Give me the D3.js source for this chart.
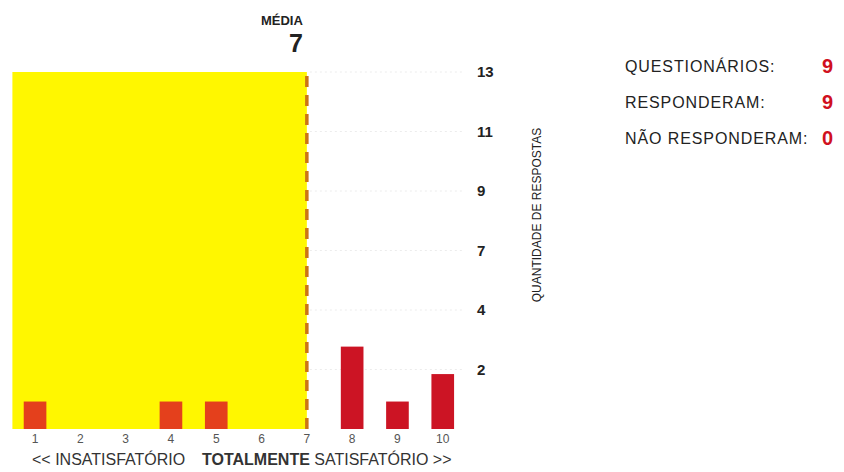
<!DOCTYPE html>
<html>
<head>
<meta charset="utf-8">
<script src="https://cdn.jsdelivr.net/npm/d3@7"></script>
<style>
  body { margin: 0; background: #fff; }
  svg text { font-family: Arial, "Liberation Sans", Helvetica, sans-serif; }
</style>
</head>
<body>
<div id="chart"></div>
<script>
// notas 1..10 e quantidade de respostas
var categories = [1, 2, 3, 4, 5, 6, 7, 8, 9, 10];
var counts = [1, 0, 0, 1, 1, 0, 0, 3, 1, 2];
var yMax = 13;
var media = 7;
var summaryLabels = ["QUESTIONÁRIOS:", "RESPONDERAM:", "NÃO RESPONDERAM:"];
var summaryValues = [9, 9, 0];

var width = 844, height = 472;

var svg = d3.select("#chart")
  .append("svg")
    .attr("width", width)
    .attr("height", height);

// scales
var x = d3.scaleBand()
  .domain(categories)
  .range([12.4, 465.4])
  .paddingInner(0.5)
  .paddingOuter(0.25);

var y = d3.scaleLinear()
  .domain([0, yMax])
  .range([429, 72]);

var yTicks = d3.range(1, 7).map(function (k) { return yMax * k / 6; });
var xMid = function (d) { return x(d) + x.bandwidth() / 2; };

// yellow area up to the mean
svg.append("rect")
  .attr("x", x.range()[0])
  .attr("y", y(yMax))
  .attr("width", xMid(media) - x.range()[0])
  .attr("height", y(0) - y(yMax))
  .style("fill", "#fff700");

// faint grid lines
svg.append("g")
  .selectAll("line")
  .data(yTicks)
  .enter()
  .append("line")
    .attr("x1", xMid(media) + 3)
    .attr("x2", 462)
    .attr("y1", function (d) { return y(d); })
    .attr("y2", function (d) { return y(d); })
    .style("stroke", "#ececec")
    .style("stroke-dasharray", "2,3");

// bars
svg.append("g")
  .selectAll("rect")
  .data(categories)
  .enter()
  .append("rect")
    .attr("x", function (d) { return x(d); })
    .attr("width", x.bandwidth())
    .attr("y", function (d, i) { return y(counts[i]); })
    .attr("height", function (d, i) { return y(0) - y(counts[i]); })
    .style("fill", function (d) { return d <= media ? "#e4401c" : "#cc1424"; });

// mean line
svg.append("line")
  .attr("x1", xMid(media))
  .attr("x2", xMid(media))
  .attr("y1", y(yMax) + 4)
  .attr("y2", y(0))
  .style("stroke", "#cc7414")
  .style("stroke-width", 3.5)
  .style("stroke-dasharray", "11,8");

svg.append("text")
  .attr("x", xMid(media) - 4)
  .attr("y", 25)
  .attr("text-anchor", "end")
  .style("font-size", "13px")
  .style("font-weight", "bold")
  .style("fill", "#222")
  .text("MÉDIA");

svg.append("text")
  .attr("x", xMid(media) - 4)
  .attr("y", 52)
  .attr("text-anchor", "end")
  .style("font-size", "25px")
  .style("font-weight", "bold")
  .style("fill", "#222")
  .text(media);

// x axis
var xAxis = svg.append("g")
  .attr("transform", "translate(0," + 429 + ")")
  .call(d3.axisBottom(x).tickSize(0).tickPadding(5));
xAxis.select(".domain").remove();
xAxis.selectAll("text")
  .style("font-size", "12px")
  .style("fill", "#555");

svg.append("text")
  .attr("x", 32)
  .attr("y", 465)
  .style("font-size", "16px")
  .style("fill", "#333")
  .text("<< INSATISFATÓRIO")
  .append("tspan")
    .attr("x", 202)
    .style("font-weight", "bold")
    .text("TOTALMENTE")
  .select(function () { return this.parentNode; })
  .append("tspan")
    .text(" SATISFATÓRIO >>");

// y axis
var yAxis = svg.append("g")
  .attr("transform", "translate(471,0)")
  .call(d3.axisRight(y).tickValues(yTicks).tickSize(0).tickPadding(6)
    .tickFormat(function (d) { return Math.round(d); }));
yAxis.select(".domain").remove();
yAxis.selectAll("text")
  .style("font-size", "15px")
  .style("font-weight", "bold")
  .style("fill", "#222");

svg.append("text")
  .attr("transform", "translate(541,215) rotate(-90)")
  .attr("text-anchor", "middle")
  .style("font-size", "12px")
  .style("fill", "#222")
  .text("QUANTIDADE DE RESPOSTAS");

// summary
var summary = svg.append("g")
  .selectAll("g")
  .data(summaryLabels)
  .enter()
  .append("g")
    .attr("transform", function (d, i) { return "translate(0," + (72 + i * 36) + ")"; });

summary.append("text")
  .attr("x", 625)
  .style("font-size", "16px")
  .style("letter-spacing", "0.9px")
  .style("fill", "#222")
  .text(function (d) { return d; });

summary.append("text")
  .attr("x", 822)
  .attr("y", 1)
  .style("font-size", "20px")
  .style("font-weight", "bold")
  .style("fill", "#d01020")
  .text(function (d, i) { return summaryValues[i]; });
</script>
</body>
</html>
